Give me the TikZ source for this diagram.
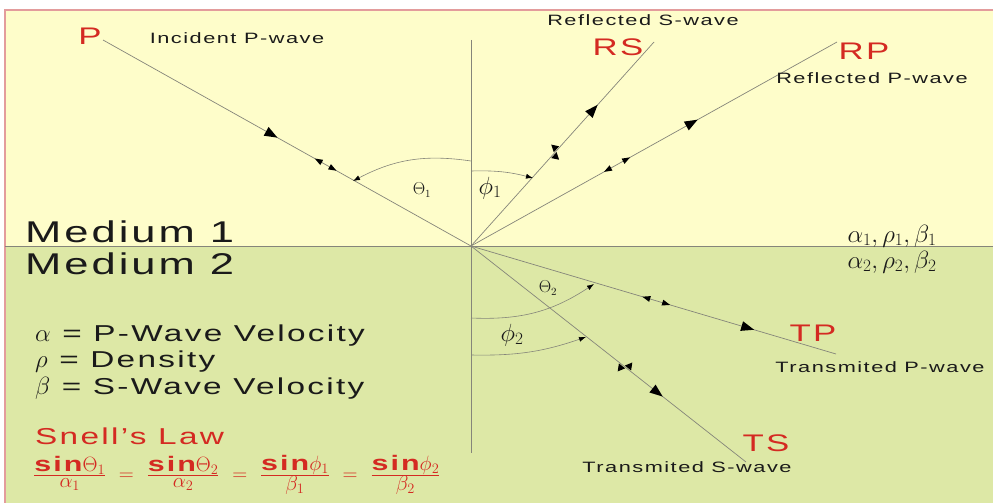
\documentclass[tikz,border=0pt]{standalone}
\usepackage{fontspec}
\setmainfont{Liberation Sans}[FakeStretch=1.45,LetterSpace=10]
\usepackage{xcolor}
\usetikzlibrary{arrows.meta,decorations.markings}

\definecolor{yellowbg}{HTML}{FEFDCA}
\definecolor{greenbg}{HTML}{DDE8A6}
\definecolor{pinkline}{HTML}{E39C9C}
\definecolor{raygray}{HTML}{85857A}
\definecolor{wavered}{HTML}{D42A22}
\definecolor{txtdark}{HTML}{1A1A1A}

% tips drawn along the rays
\newcommand{\bigtip}{\fill[black] (6,0) -- (-7,5) -- (-7,-5) -- cycle;}
\newcommand{\fwdtip}{\fill[black] (4,0) -- (-4,3) -- (-4,-3) -- cycle;}
\newcommand{\backtip}{\fill[black] (-4,0) -- (4,3) -- (4,-3) -- cycle;}
\newcommand{\sidetips}{\fill[black] (-3,8) -- (-7,1) -- (1,1) -- cycle;
  \fill[black] (3,-8) -- (-1,-1) -- (7,-1) -- cycle;}
% one ratio of Snell's law
\newcommand{\snellratio}[2]{\frac{\textstyle\textbf{sin}#1}{\textstyle#2}}

\tikzset{
  ray/.style={draw=raygray, line width=0.7pt},
  angarc/.style={draw=raygray, line width=0.6pt, -{Latex[length=7pt,width=5pt,color=black]}},
  lbl/.style={font=\fontsize{15}{17}\selectfont, text=txtdark, inner sep=0pt},
  wavename/.style={font=\fontsize{24}{26}\selectfont, text=wavered, inner sep=0pt},
  legend/.style={font=\fontsize{23}{26}\selectfont, text=txtdark, anchor=west, inner sep=0pt}
}

\begin{document}
\begin{tikzpicture}[x=1pt,y=-1pt]
  \useasboundingbox (0,0) rectangle (993,503);
  % the two media
  \fill[yellowbg] (5,10) rectangle (993,246);
  \fill[greenbg] (5,246) rectangle (993,503);
  \draw[pinkline, line width=2pt] (993,10) -- (5,10) -- (5,503);
  \draw[ray] (5,246) -- (993,246);

  % point of incidence and ends of the rays
  \coordinate (O) at (471,246);
  \coordinate (ntop) at (471,40);
  \coordinate (nbot) at (471,453);
  \coordinate (pin) at (103,40);
  \coordinate (rsout) at (654,42);
  \coordinate (rpout) at (837,42);
  \coordinate (tpout) at (836,354);
  \coordinate (tsout) at (746,462);
  \draw[ray] (ntop) -- (nbot);

  % rays with their particle motion
  \draw[ray, postaction={decorate}, decoration={markings,
      mark=at position 0.46 with {\bigtip},
      mark=at position 0.585 with {\backtip},
      mark=at position 0.625 with {\fwdtip}}] (pin) -- (O);
  \draw[ray, postaction={decorate}, decoration={markings,
      mark=at position 0.46 with {\sidetips},
      mark=at position 0.67 with {\bigtip}}] (O) -- (rsout);
  \draw[ray, postaction={decorate}, decoration={markings,
      mark=at position 0.373 with {\backtip},
      mark=at position 0.425 with {\fwdtip},
      mark=at position 0.605 with {\bigtip}}] (O) -- (rpout);
  \draw[ray, postaction={decorate}, decoration={markings,
      mark=at position 0.48 with {\backtip},
      mark=at position 0.535 with {\fwdtip},
      mark=at position 0.76 with {\bigtip}}] (O) -- (tpout);
  \draw[ray, postaction={decorate}, decoration={markings,
      mark=at position 0.56 with {\sidetips},
      mark=at position 0.68 with {\bigtip}}] (O) -- (tsout);

  % angles
  \coordinate (t1a) at (471,161);
  \coordinate (t1b) at (353,181);
  \coordinate (f1a) at (471,171);
  \coordinate (f1b) at (533,178);
  \coordinate (t2a) at (471,318);
  \coordinate (t2b) at (594,284);
  \coordinate (f2a) at (471,355);
  \coordinate (f2b) at (586,337);
  \draw[angarc] (t1a) to[bend right=18] (t1b);
  \draw[angarc] (f1a) to[bend left=8] (f1b);
  \draw[angarc] (t2a) to[bend right=18] (t2b);
  \draw[angarc] (f2a) to[bend right=10] (f2b);
  \node[lbl, font=\fontsize{16}{18}\selectfont] (theta1) at (422,190) {$\Theta_1$};
  \node[lbl, font=\fontsize{24}{26}\selectfont] (phi1) at (490,188) {$\phi_1$};
  \node[lbl, font=\fontsize{16}{18}\selectfont] (theta2) at (548,288) {$\Theta_2$};
  \node[lbl, font=\fontsize{24}{26}\selectfont] (phi2) at (512,335) {$\phi_2$};

  % wave names
  \node[wavename] (P) at (90,36) {P};
  \node[lbl] (incP) at (237,38) {Incident P-wave};
  \node[lbl] (refS) at (643,20) {Reflected S-wave};
  \node[wavename] (RS) at (618,47) {RS};
  \node[wavename] (RP) at (864,51) {RP};
  \node[lbl] (refP) at (872,78) {Reflected P-wave};
  \node[wavename] (TP) at (813,333) {TP};
  \node[lbl] (trP) at (880,367) {Transmited P-wave};
  \node[wavename] (TS) at (766,443) {TS};
  \node[lbl] (trS) at (687,467) {Transmited S-wave};

  % media and their properties
  \node[legend, font=\fontsize{30}{33}\selectfont] (med1) at (25,232) {Medium 1};
  \node[legend, font=\fontsize{30}{33}\selectfont] (med2) at (25,264) {Medium 2};
  \node[lbl, font=\fontsize{23}{26}\selectfont] (prop1) at (892,236) {$\alpha_1,\rho_1,\beta_1$};
  \node[lbl, font=\fontsize{23}{26}\selectfont] (prop2) at (892,262) {$\alpha_2,\rho_2,\beta_2$};

  % legend
  \node[legend] (alpha) at (35,336) {$\alpha$ = P-Wave Velocity};
  \node[legend] (rho) at (35,362) {$\rho$ = Density};
  \node[legend] (beta) at (35,388) {$\beta$ = S-Wave Velocity};
  \node[legend, text=wavered] (snell) at (35,436) {Snell's Law};
  \node[legend, text=wavered, font=\fontsize{21}{23}\selectfont] (law) at (33,475)
    {$\snellratio{\Theta_1}{\alpha_1}\mkern6mu=\mkern6mu\snellratio{\Theta_2}{\alpha_2}\mkern6mu=\mkern6mu\snellratio{\phi_1}{\beta_1}\mkern6mu=\mkern6mu\snellratio{\phi_2}{\beta_2}$};
\end{tikzpicture}
\end{document}
